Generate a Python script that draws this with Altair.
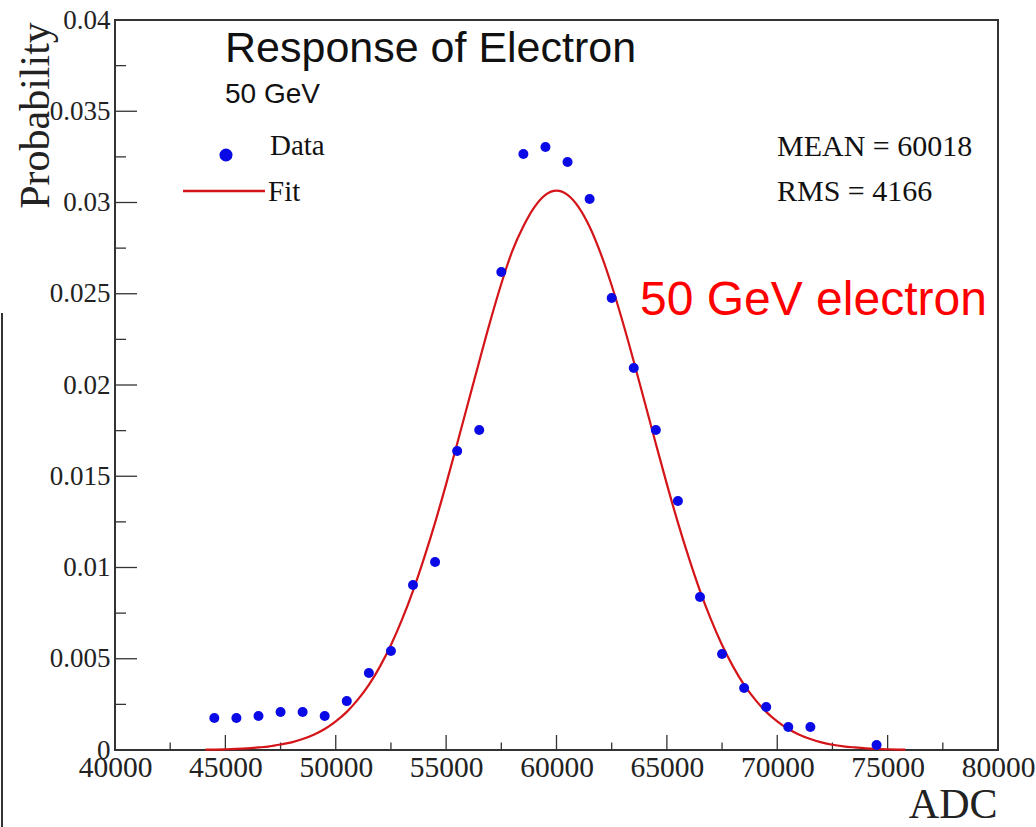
import altair as alt
import pandas as pd

# ---- data ----
adc_bins = [44500, 45500, 46500, 47500, 48500, 49500, 50500, 51500, 52500, 53500,
            54500, 55500, 56500, 57500, 58500, 59500, 60500, 61500, 62500, 63500,
            64500, 65500, 66500, 67500, 68500, 69500, 70500, 71500, 74500]
prob = [0.00175, 0.00175, 0.00186, 0.00208, 0.00208, 0.00186, 0.00268, 0.00422, 0.00542, 0.00904,
        0.01030, 0.01638, 0.01753, 0.02619, 0.03266, 0.03304, 0.03222, 0.03019, 0.02477, 0.02093,
        0.01753, 0.01364, 0.00838, 0.00526, 0.00340, 0.00236, 0.00126, 0.00126, 0.00027]

fit_x = [44100, 44500, 45000, 45500, 46000, 46500, 47000, 47500, 48000, 48500,
         49000, 49500, 50000, 50500, 51000, 51500, 52000, 52500, 53000, 53500,
         54000, 54500, 55000, 55500, 56000, 56500, 57000, 57500, 58000, 58500,
         59000, 59500, 60000, 60500, 61000, 61500, 62000, 62500, 63000, 63500,
         64000, 64500, 65000, 65500, 66000, 66500, 67000, 67500, 68000, 68500,
         69000, 69500, 70000, 70500, 71000, 71500, 72000, 72500, 73000, 73500,
         74000, 74500, 75000, 75500, 75800]
fit_y = [0.000018, 0.000024, 0.00004, 0.00006, 0.00009, 0.00014, 0.00020, 0.00030, 0.00042, 0.00060,
         0.00084, 0.00115, 0.00157, 0.00209, 0.00276, 0.00357, 0.00457, 0.00575, 0.00714, 0.00872,
         0.01051, 0.01246, 0.01457, 0.01678, 0.01904, 0.02129, 0.02350, 0.02555, 0.02735, 0.02870,
         0.02975, 0.03042, 0.03065, 0.03042, 0.02975, 0.02867, 0.02721, 0.02545, 0.02345, 0.02129,
         0.01904, 0.01678, 0.01457, 0.01246, 0.01051, 0.00872, 0.00714, 0.00575, 0.00457, 0.00357,
         0.00276, 0.00209, 0.00157, 0.00115, 0.00084, 0.00060, 0.00042, 0.00029, 0.00020, 0.00014,
         0.00009, 0.00006, 0.00004, 0.000024, 0.000018]

x_major = [40000, 45000, 50000, 55000, 60000, 65000, 70000, 75000, 80000]
x_minor = [42500, 47500, 52500, 57500, 62500, 67500, 72500, 77500]
y_major = [0, 0.005, 0.01, 0.015, 0.02, 0.025, 0.03, 0.035, 0.04]
y_minor = [0.0025, 0.0075, 0.0125, 0.0175, 0.0225, 0.0275, 0.0325, 0.0375]

W, H = 883, 730
SERIF = "Liberation Serif"
SANS = "Liberation Sans"
AX = "#333333"

xs = alt.Scale(domain=[40000, 80000], nice=False, zero=False)
ys = alt.Scale(domain=[0, 0.04], nice=False)

xaxis = alt.Axis(values=x_major, format="d", title="ADC", ticks=False, domain=False, grid=False,
                 labelFlush=False, labelOverlap=False, labelBound=False,
                 labelFont=SERIF, labelFontSize=29.5, labelColor="#222222", labelPadding=3,
                 titleFont=SERIF, titleFontSize=42, titleFontWeight="normal", titleColor="#222222",
                 titleAnchor="end", titleAlign="right", titleBaseline="alphabetic",
                 titleX=W - 1, titleY=67)
yaxis = alt.Axis(values=y_major, format="~g", title="Probability", ticks=False, domain=False, grid=False,
                 labelFlush=False, labelOverlap=False, labelBound=False,
                 labelFont=SERIF, labelFontSize=27, labelColor="#222222", labelPadding=5,
                 titleFont=SERIF, titleFontSize=42, titleFontWeight="normal", titleColor="#222222",
                 titleAngle=-90, titleAlign="center", titleBaseline="alphabetic",
                 titleX=-67, titleY=95)

df_pts = pd.DataFrame({"adc": adc_bins, "p": prob})
df_fit = pd.DataFrame({"adc": fit_x, "p": fit_y})

points = alt.Chart(df_pts).mark_circle(size=100, color="#0a0ae6", opacity=1).encode(
    x=alt.X("adc:Q", scale=xs, axis=xaxis),
    y=alt.Y("p:Q", scale=ys, axis=yaxis),
)
fit = alt.Chart(df_fit).mark_line(color="#d41418", strokeWidth=2.2, interpolate="monotone").encode(
    x=alt.X("adc:Q", scale=xs), y=alt.Y("p:Q", scale=ys))

xmaj = alt.Chart(pd.DataFrame({"t": x_major[1:-1]})).mark_rule(color=AX, strokeWidth=1.3).encode(
    x=alt.X("t:Q", scale=xs), y=alt.value(H), y2=alt.value(H - 15))
xmin = alt.Chart(pd.DataFrame({"t": x_minor})).mark_rule(color=AX, strokeWidth=1.3).encode(
    x=alt.X("t:Q", scale=xs), y=alt.value(H), y2=alt.value(H - 7.5))
ymaj = alt.Chart(pd.DataFrame({"t": y_major[1:-1]})).mark_rule(color=AX, strokeWidth=1.3).encode(
    y=alt.Y("t:Q", scale=ys), x=alt.value(0), x2=alt.value(22))
ymin = alt.Chart(pd.DataFrame({"t": y_minor})).mark_rule(color=AX, strokeWidth=1.3).encode(
    y=alt.Y("t:Q", scale=ys), x=alt.value(0), x2=alt.value(11))

def txt(s, x, y, font, size, color="#111111"):
    return alt.Chart(pd.DataFrame({"s": [s]})).mark_text(
        align="left", baseline="alphabetic", font=font, fontSize=size, color=color
    ).encode(text="s:N", x=alt.value(x), y=alt.value(y))

title1 = txt("Response of Electron", 110, 42, SANS, 43)
title2 = txt("50 GeV", 110, 83, SANS, 28)
leg_data = txt("Data", 155, 135, SERIF, 29)
leg_fit = txt("Fit", 153, 181, SERIF, 29)
mean_t = txt("MEAN = 60018", 662, 136, SERIF, 30)
rms_t = txt("RMS = 4166", 662, 181, SERIF, 30)
red_t = txt("50 GeV electron", 525, 295, SANS, 48, "#ff0000")

leg_dot = alt.Chart(pd.DataFrame({"k": ["Data"]})).mark_circle(size=170, color="#0a0ae6", opacity=1).encode(
    x=alt.value(111), y=alt.value(135))
leg_line = alt.Chart(pd.DataFrame({"k": ["Fit"]})).mark_rule(color="#d41418", strokeWidth=2.5).encode(
    x=alt.value(68), x2=alt.value(150), y=alt.value(171))
stray = alt.Chart(pd.DataFrame({"k": [0]})).mark_rule(color="#333333", strokeWidth=2).encode(
    x=alt.value(-113), y=alt.value(293), y2=alt.value(810))

chart = alt.layer(
    xmaj, xmin, ymaj, ymin, fit, points, leg_line, leg_dot,
    title1, title2, leg_data, leg_fit, mean_t, rms_t, red_t, stray
).properties(
    width=W, height=H,
    autosize=alt.AutoSizeParams(type="none"),
    padding={"left": 115, "top": 20, "right": 38, "bottom": 77},
    background="white",
).configure_view(stroke=AX, strokeWidth=2)

chart.save("out.html", embed_options={"renderer": "svg", "actions": False})
